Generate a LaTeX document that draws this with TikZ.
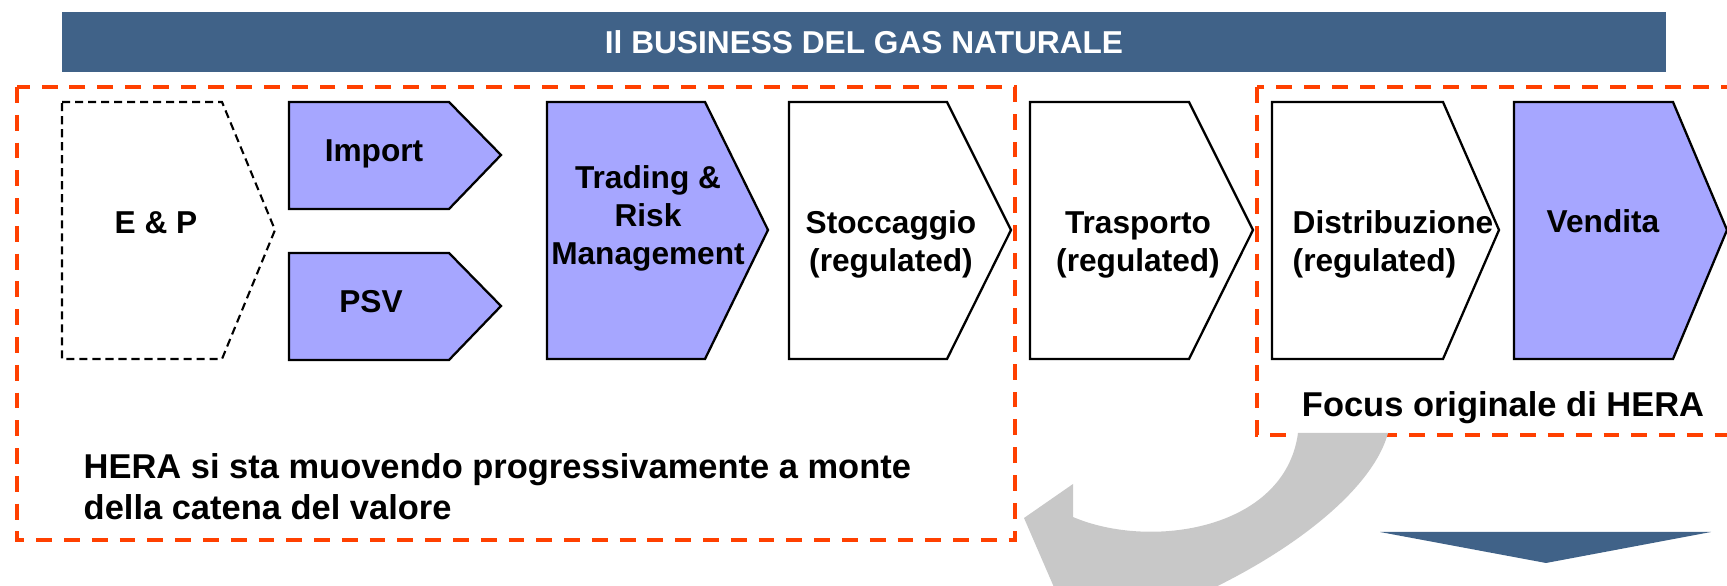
\documentclass[tikz,border=0pt]{standalone}
\usepackage{fontspec}
\setmainfont{Liberation Sans}
\definecolor{bannerblue}{RGB}{64,98,136}
\definecolor{stageblue}{RGB}{166,166,255}
\definecolor{focusred}{RGB}{255,64,0}
\definecolor{arrowgray}{RGB}{200,200,200}
\begin{document}
\begin{tikzpicture}[x=0.01cm, y=-0.01cm,
        banner/.style={fill=bannerblue, text=white, minimum width=16.04cm, minimum height=0.6cm, inner sep=0pt, font=\bfseries\fontsize{9}{10}\selectfont},
        focusbox/.style={draw=focusred, line width=1.15pt, dash pattern=on 4.5pt off 3.4pt},
        openstage/.style={draw, line width=0.6pt, dash pattern=on 2.3pt off 1.4pt},
        stage/.style={draw, line width=0.65pt, fill=stageblue},
        regstage/.style={draw, line width=0.65pt, fill=white},
        stagetext/.style={inner sep=0pt, align=center, anchor=base, font=\bfseries\fontsize{9}{10.9}\selectfont},
        notetext/.style={inner sep=0pt, font=\bfseries\fontsize{9.8}{11.9}\selectfont}]
                \useasboundingbox (0, 0) rectangle (1727, 586);

                % Banner
                \node[banner] at (864, 42) (banner) {Il BUSINESS DEL GAS NATURALE};

                % Focus boxes
                \draw[focusbox] (17, 87) rectangle (1015, 540);
                \draw[focusbox] (1257, 87) rectangle (1760, 435);

                % Stages
                \draw[openstage] (62, 102) -- (222, 102) -- (275, 230) -- (222, 359) -- (62, 359) -- cycle;
                \draw[stage] (289, 102) -- (449, 102) -- (501, 155) -- (449, 209) -- (289, 209) -- cycle;
                \draw[stage] (289, 253) -- (449, 253) -- (501, 306) -- (449, 360) -- (289, 360) -- cycle;
                \draw[stage] (547, 102) -- (705, 102) -- (768, 230) -- (705, 359) -- (547, 359) -- cycle;
                \draw[regstage] (789, 102) -- (947, 102) -- (1011, 230) -- (947, 359) -- (789, 359) -- cycle;
                \draw[regstage] (1030, 102) -- (1189, 102) -- (1253, 230) -- (1189, 359) -- (1030, 359) -- cycle;
                \draw[regstage] (1272, 102) -- (1443, 102) -- (1499, 230) -- (1443, 359) -- (1272, 359) -- cycle;
                \draw[stage] (1514, 102) -- (1673, 102) -- (1727, 230) -- (1673, 359) -- (1514, 359) -- cycle;

                % Stage names
                \node[stagetext] at (156, 234) (ep) {E \& P};
                \node[stagetext] at (374, 162) (import) {Import};
                \node[stagetext] at (371, 313) (psv) {PSV};
                \node[stagetext] at (648, 265) (trading) {Trading \&\\Risk\\Management};
                \node[stagetext] at (891, 272) (stoccaggio) {Stoccaggio\\(regulated)};
                \node[stagetext] at (1138, 272) (trasporto) {Trasporto\\(regulated)};
                \node[stagetext, align=left, anchor=base west] at (1292, 272) (distribuzione) {Distribuzione\\(regulated)};
                \node[stagetext] at (1603, 233) (vendita) {Vendita};

                % Notes
                \node[notetext, anchor=base] at (1503, 417) (focus) {Focus originale di HERA};
                \node[notetext, align=left, anchor=base west] at (83, 520) (upstream) {HERA si sta muovendo progressivamente a monte\\della catena del valore};

                % Curved arrow
                \fill[arrowgray] (1388, 433) .. controls (1370, 500) and (1260, 575) .. (1150, 615)
                    -- (1066, 615) -- (1024, 518) -- (1073, 484) -- (1073, 517)
                    .. controls (1150, 550) and (1285, 530) .. (1298, 433) -- cycle;

                % Down arrow
                \fill[bannerblue] (1380, 532) -- (1711, 532) -- (1546, 563) -- cycle;
            \end{tikzpicture}
\end{document}
